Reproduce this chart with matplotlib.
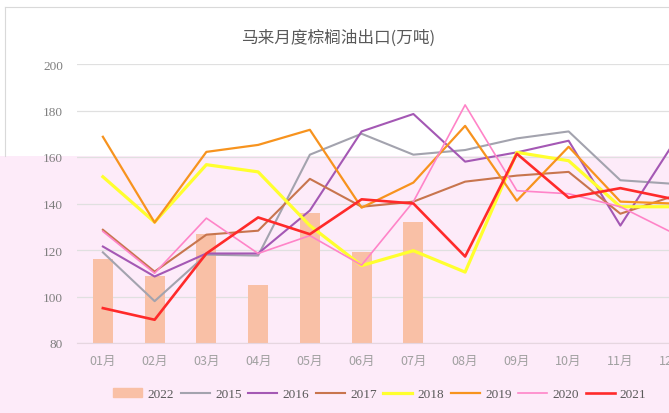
import matplotlib.pyplot as plt
import matplotlib.patches as patches
from matplotlib.lines import Line2D
import numpy as np

# Monthly Malaysian palm oil exports (10k tonnes)
months = ['01月', '02月', '03月', '04月', '05月', '06月',
          '07月', '08月', '09月', '10月', '11月', '12月']
y2022 = [116, 109, 127, 105, 136, 119, 132]
y2015 = [119, 98, 118, 117.6, 161, 170, 161, 163, 168, 171, 150, 148.5]
y2016 = [121.5, 108.6, 118.5, 118.5, 137, 171, 178.5, 158, 162, 167, 130.5, 165]
y2017 = [128.7, 110.7, 126.6, 128.3, 150.6, 138.6, 140.8, 149.4, 152, 153.6, 135.6, 143]
y2018 = [151.5, 132, 156.7, 153.6, 130.5, 113.3, 119.7, 110.5, 162, 158.4, 138.6, 138.6]
y2019 = [168.7, 131.8, 162.2, 165.2, 171.7, 138.2, 149, 173.4, 141.2, 164.4, 140.8, 140]
y2020 = [128, 110, 133.7, 118.5, 126.2, 113.5, 140.8, 182.4, 145.5, 144.2, 138.6, 127.5]
y2021 = [95, 90, 118.5, 134, 126.8, 141.8, 140, 117.2, 161.4, 142.5, 146.6, 142]

line_series = [
    ('2015', y2015, '#a3a3ae', 1.5),
    ('2016', y2016, '#a458b4', 1.5),
    ('2017', y2017, '#c8754e', 1.5),
    ('2018', y2018, '#ffff2e', 2.3),
    ('2019', y2019, '#f7931e', 1.6),
    ('2020', y2020, '#ff84c8', 1.2),
    ('2021', y2021, '#ff2a2a', 1.9),
]

fig = plt.figure(figsize=(6.69, 4.14), dpi=100)
fig.patch.set_facecolor('white')

# washed pink band over the lower part of the picture
fig.patches.append(patches.Rectangle((0, 0), 1, (414 - 157) / 414,
                                     transform=fig.transFigure,
                                     facecolor='#fdebf9', edgecolor='none',
                                     zorder=-10))
# thin chart border
fig.add_artist(Line2D([5 / 669, 1], [1 - 8 / 414, 1 - 8 / 414],
                      transform=fig.transFigure, color='#d9d9d9', lw=0.8))
fig.add_artist(Line2D([5 / 669, 5 / 669], [1 - 8 / 414, 1 - 157 / 414],
                      transform=fig.transFigure, color='#d9d9d9', lw=0.8))

ax = fig.add_axes([77 / 669, 70 / 414, 621 / 669, 279 / 414])
ax.set_facecolor('none')

x = np.arange(len(months))
ax.bar(x[:len(y2022)], y2022, width=0.39, color='#f9c0a6', zorder=2)
for name, vals, col, lw in line_series:
    ax.plot(x, vals, color=col, lw=lw, zorder=3)

ax.set_xlim(-0.5, len(months) - 0.5)
ax.set_ylim(80, 200)
ax.set_yticks(range(80, 201, 20))
ax.set_xticks(x)
ax.set_xticklabels(months, family=['Noto Sans CJK SC', 'DejaVu Sans'],
                   fontsize=9, color='#a0a0a0')
for lab in ax.get_yticklabels():
    lab.set_family('Liberation Serif')
    lab.set_fontsize(9.5)
    lab.set_color('#7f7f7f')
ax.tick_params(axis='both', length=0)
ax.tick_params(axis='y', pad=10)
ax.tick_params(axis='x', pad=8)
ax.grid(axis='y', color='#e0e0e0', lw=0.9, zorder=0)
ax.set_axisbelow(True)
for s in ['top', 'right', 'left']:
    ax.spines[s].set_visible(False)
ax.spines['bottom'].set_color('#e6d6e0')

fig.text(338 / 669, 1 - 38 / 414, '马来月度棕榈油出口(万吨)',
         ha='center', va='center', fontsize=12, color='#595959',
         family=['Noto Sans CJK SC', 'DejaVu Sans'])

handles = [patches.Patch(color='#f9c0a6')]
labels = ['2022']
for name, vals, col, lw in line_series:
    handles.append(Line2D([0], [0], color=col, lw=lw))
    labels.append(name)
fig.legend(handles, labels, loc='center', bbox_to_anchor=(380 / 669, 19 / 414),
           ncol=8, frameon=False, handlelength=2.2, columnspacing=0.5,
           handletextpad=0.4, prop={'family': 'Liberation Serif', 'size': 9.5},
           labelcolor='#595959')

fig.savefig('out.png', dpi=100)
